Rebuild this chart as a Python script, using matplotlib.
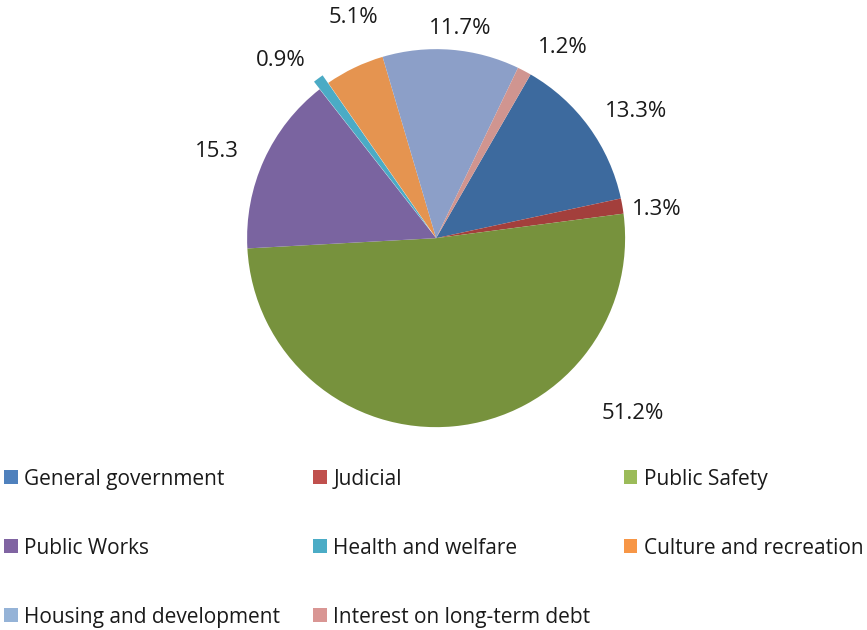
import matplotlib.pyplot as plt
from matplotlib.patches import Patch

categories = ['General government', 'Judicial', 'Public Safety', 'Public Works',
              'Health and welfare', 'Culture and recreation',
              'Housing and development', 'Interest on long-term debt']
shares = [13.3, 1.3, 51.2, 15.3, 0.9, 5.1, 11.7, 1.2]
value_labels = ['13.3%', '1.3%', '51.2%', '15.3', '0.9%', '5.1%', '11.7%', '1.2%']

# slice fills are a bit darker than the legend swatches (shaded pie style)
slice_colors = ['#3d6a9e', '#a33f3c', '#77923d', '#7a64a0',
                '#4babc5', '#e59450', '#8c9fc8', '#d09590']
legend_colors = ['#4f81bd', '#c0504d', '#9bbb59', '#8064a2',
                 '#4bacc6', '#f79646', '#95b3d7', '#d99694']

plt.rcParams['font.family'] = ['Open Sans', 'DejaVu Sans']

fig = plt.figure(figsize=(8.67, 6.3), dpi=100)
ax = fig.add_axes([0.285, 0.322, 0.436, 0.6])

explode = [0, 0, 0, 0, 0.05, 0, 0, 0]
ax.pie(shares, colors=slice_colors, startangle=60, counterclock=False,
       explode=explode, radius=1.0, wedgeprops=dict(linewidth=0))
ax.set_xlim(-1, 1)
ax.set_ylim(-1, 1)
ax.set_aspect('equal')
ax.axis('off')

# data label spots, in pie-radius units around the centre
label_pos = [(1.06, 0.67), (1.17, 0.15), (1.04, -0.93), (-1.16, 0.46),
             (-0.82, 0.94), (-0.44, 1.17), (0.13, 1.11), (0.67, 1.01)]
for text, (x, y) in zip(value_labels, label_pos):
    ax.text(x, y, text, ha='center', va='center', fontsize=16, color='#1a1a1a')

# legend is filled row by row in three columns
order = [0, 3, 6, 1, 4, 7, 2, 5]
handles = [Patch(facecolor=legend_colors[i], edgecolor='none') for i in order]
labels = [categories[i] for i in order]
leg = fig.legend(handles, labels, loc='upper left', bbox_to_anchor=(0.005, 0.256),
                 ncol=3, frameon=False, fontsize=15, handlelength=0.65,
                 handleheight=0.65, handletextpad=0.3, columnspacing=1.6,
                 labelspacing=2.3, borderpad=0, borderaxespad=0)
for t in leg.get_texts():
    t.set_color('#1a1a1a')

fig.savefig('out.png', dpi=100)
